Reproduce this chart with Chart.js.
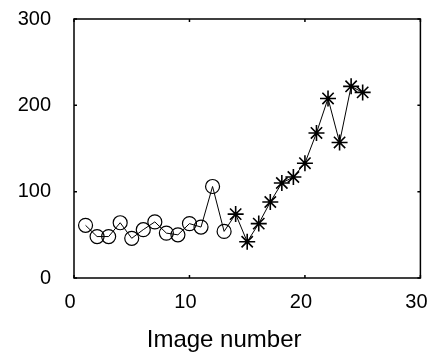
<!DOCTYPE html>
<html><head><meta charset="utf-8">
<script src="https://cdn.jsdelivr.net/npm/chart.js@4/dist/chart.umd.min.js"></script>
<style>html,body{margin:0;padding:0;background:#fff;}canvas{display:block;}</style>
</head><body>
<canvas id="c" width="430" height="357"></canvas>
<script>
const circleImages = [1,2,3,4,5,6,7,8,9,10,11,12,13];
const circleValues = [61,48,48,64,46,56,65,52,50,63,59,106,54];
const starImages = [14,15,16,17,18,19,20,21,22,23,24,25];
const starValues = [74,42,63,88,110,117,133,168,208,157,222,215];
const xTicks = [0,10,20,30];
const yTicks = [0,100,200,300];
const xTitle = 'Image number';

const pts = circleImages.map((x,i)=>({x, y: circleValues[i]}))
  .concat(starImages.map((x,i)=>({x, y: starValues[i]})));
const styles = circleImages.map(()=> 'circle').concat(starImages.map(()=> 'star'));
const radii = circleImages.map(()=> 7).concat(starImages.map(()=> 8));
const widths = circleImages.map(()=> 1.2).concat(starImages.map(()=> 1.6));

const frame = {
  id: 'frame',
  afterDraw(chart){
    const {ctx, chartArea:a, scales:{x, y}} = chart;
    ctx.save();
    ctx.strokeStyle = '#000';
    ctx.lineWidth = 1.5;
    ctx.strokeRect(a.left, a.top, a.right - a.left, a.bottom - a.top);
    ctx.beginPath();
    xTicks.forEach(v=>{
      const px = x.getPixelForValue(v);
      ctx.moveTo(px, a.bottom); ctx.lineTo(px, a.bottom - 3);
      ctx.moveTo(px, a.top); ctx.lineTo(px, a.top + 3);
    });
    yTicks.forEach(v=>{
      const py = y.getPixelForValue(v);
      ctx.moveTo(a.left, py); ctx.lineTo(a.left + 3, py);
      ctx.moveTo(a.right, py); ctx.lineTo(a.right - 3, py);
    });
    ctx.stroke();
    // axis title (offset left of centre, as in the original)
    ctx.fillStyle = '#000';
    ctx.font = '24px "Liberation Sans"';
    ctx.textAlign = 'center';
    ctx.textBaseline = 'alphabetic';
    ctx.fillText(xTitle, x.getPixelForValue(13), a.bottom + 69);
    ctx.restore();
  }
};

new Chart(document.getElementById('c'), {
  type: 'line',
  data: { datasets: [{
    data: pts,
    borderColor: '#000',
    borderWidth: 1,
    pointStyle: styles,
    pointRadius: radii,
    pointBorderWidth: widths,
    pointBorderColor: '#000',
    pointBackgroundColor: 'rgba(0,0,0,0)',
    tension: 0,
    fill: false
  }]},
  options: {
    responsive: false,
    animation: false,
    events: [],
    layout: { padding: { left: 0, right: 9, top: 19, bottom: 0 } },
    plugins: { legend: { display: false }, tooltip: { enabled: false } },
    scales: {
      x: {
        type: 'linear', min: 0, max: 30,
        afterBuildTicks(s){ s.ticks = xTicks.map(v=>({value:v})); },
        afterFit(s){ s.height = 79; s.paddingLeft = 0; s.paddingRight = 0; },
        grid: { display: false, drawTicks: false },
        border: { display: false },
        ticks: { color: '#000', font: { family: 'Liberation Sans', size: 20 }, padding: 12, maxRotation: 0, labelOffset: -4 },
        title: { display: false }
      },
      y: {
        min: 0, max: 300,
        afterBuildTicks(s){ s.ticks = yTicks.map(v=>({value:v})); },
        afterFit(s){ s.width = 74; s.paddingTop = 0; s.paddingBottom = 0; },
        grid: { display: false, drawTicks: false },
        border: { display: false },
        ticks: { color: '#000', font: { family: 'Liberation Sans', size: 20 }, padding: 23 }
      }
    }
  },
  plugins: [frame]
});
</script>
</body></html>
